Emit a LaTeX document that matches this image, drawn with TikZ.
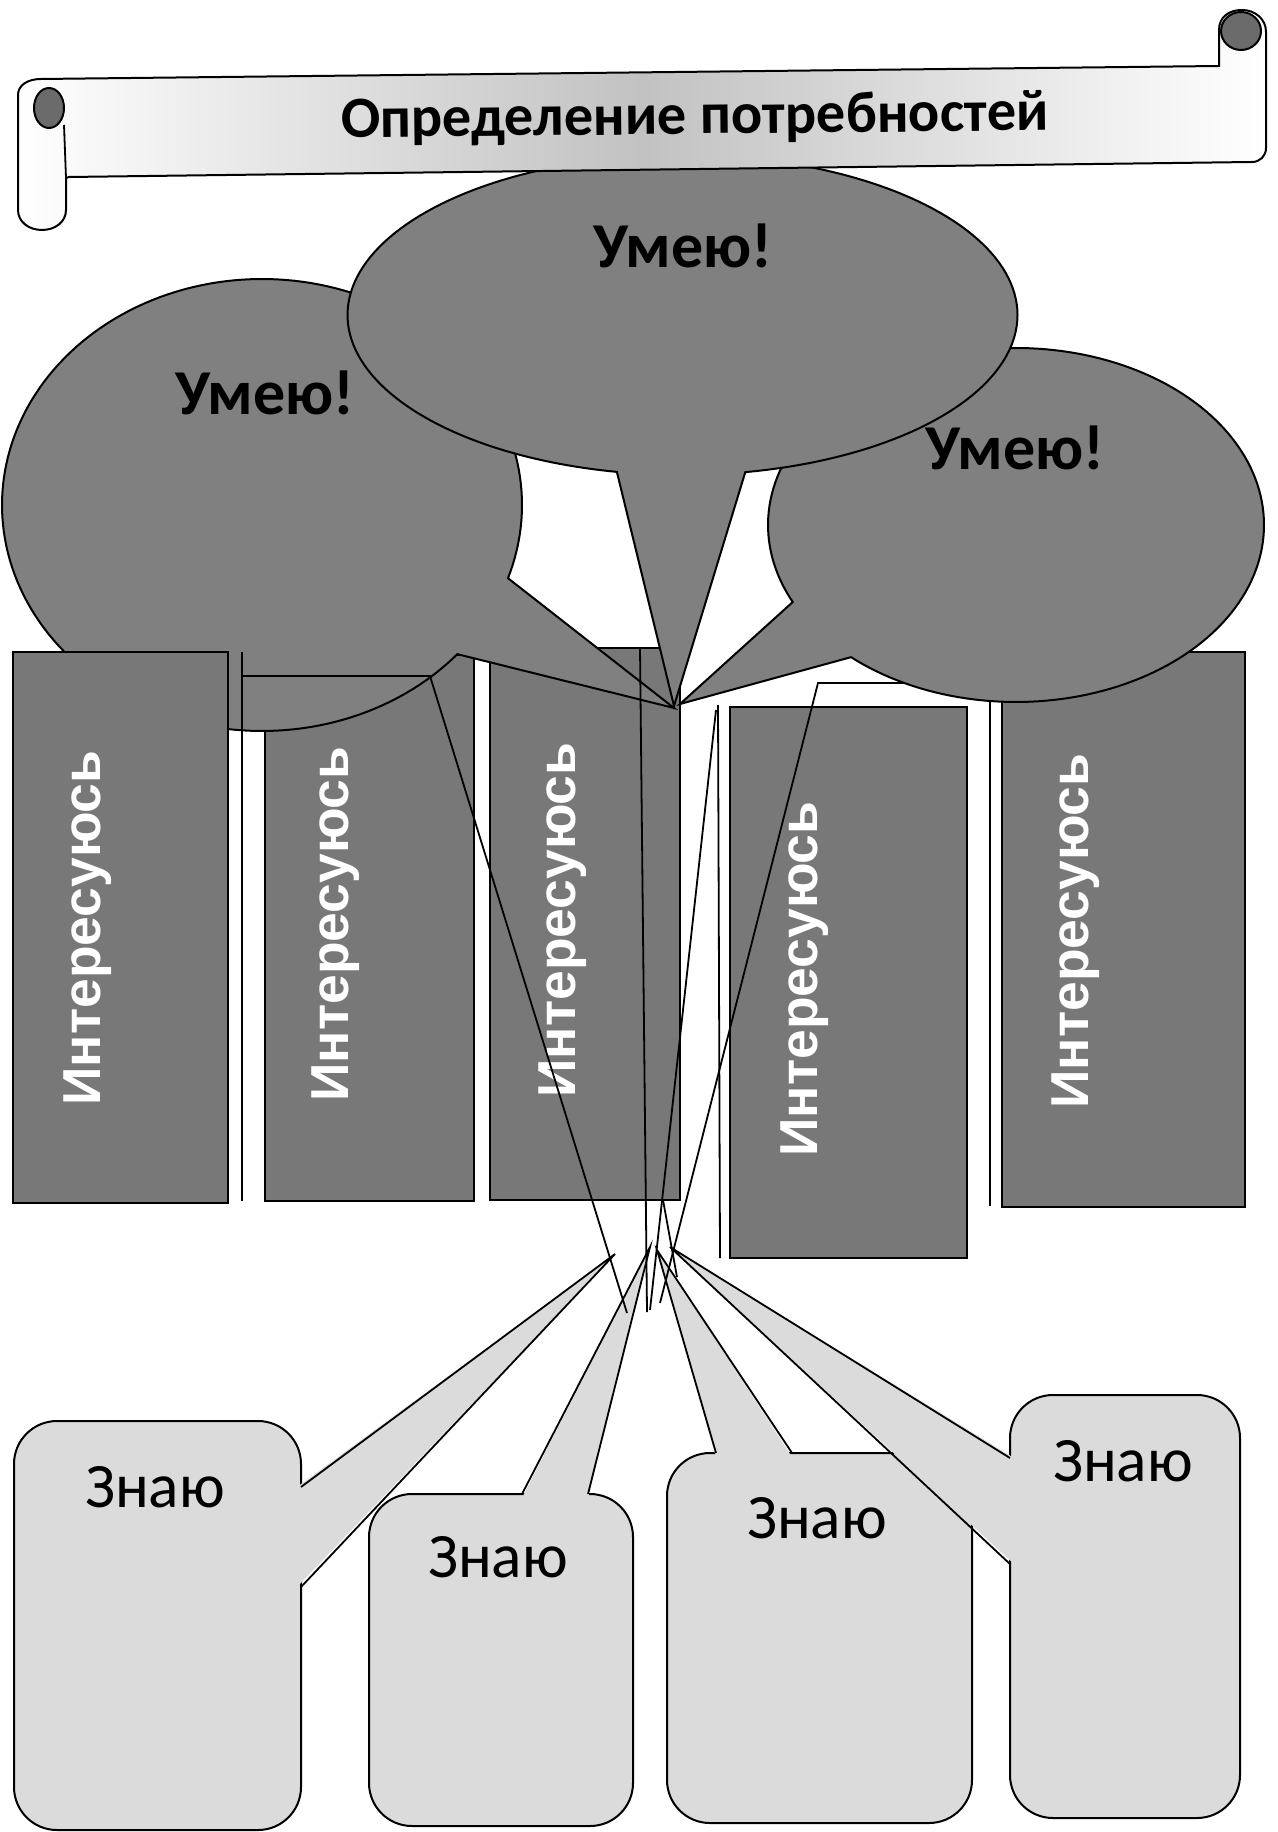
\documentclass[tikz,border=0pt]{standalone}
\usepackage{fontspec}
\setmainfont{Carlito}
\newfontfamily\interestfont{Liberation Sans}

\definecolor{bubblegray}{gray}{0.50}
\definecolor{boxgray}{gray}{0.47}
\definecolor{knowgray}{gray}{0.86}
\definecolor{scrollgray}{gray}{0.76}
\definecolor{curlgray}{gray}{0.42}

% ellipse with a pointer: cx, cy, rx, ry, start angle, end angle, tip x, tip y
\newcommand{\drawbubble}[8]{%
  \filldraw[bubble] plot[domain=#5:#6, samples=180] ({#1+#3*cos(\x)}, {#2+#4*sin(\x)}) -- (#7,#8) -- cycle;
}

\begin{document}
\begin{tikzpicture}[
      x=0.1mm, y=-0.1mm,
      bubble/.style ={fill=bubblegray, draw=black, line width=0.2mm},
      interestbox/.style ={fill=boxgray, draw=black, line width=0.2mm},
      knowbox/.style ={fill=knowgray, draw=black, line width=0.2mm, rounded corners=4.3mm},
      knowfill/.style ={fill=knowgray},
      scroll/.style ={draw=black, line width=0.2mm, left color=white, right color=white, middle color=scrollgray},
      curl/.style ={fill=curlgray, draw=black, line width=0.2mm},
      wire/.style ={draw=black, line width=0.18mm},
      titletext/.style ={font=\fontsize{16.6}{16.6}\selectfont\bfseries, anchor=base, inner sep=0pt},
      skilltext/.style ={font=\fontsize{18.2}{18.2}\selectfont\bfseries, anchor=base, inner sep=0pt},
      knowtext/.style ={font=\fontsize{18}{18}\selectfont, anchor=base, inner sep=0pt},
      interesttext/.style ={font=\interestfont\fontsize{15.2}{15.2}\selectfont\bfseries, text=white, rotate=90, anchor=base, inner sep=0pt}
    ]
    \useasboundingbox (0,0) rectangle (1277,1832);

    % columns under the bubbles
    \filldraw [interestbox] (265,655) rectangle (474,1201) ;
    \filldraw [interestbox] (490,648) rectangle (680,1200) ;
    \filldraw [interestbox] (730,707) rectangle (967,1258) ;
    \filldraw [interestbox] (1002,652) rectangle (1245,1207) ;
    \draw [wire] (990,690) -- (990,1206) ;

    % bubbles
    \drawbubble{262}{505}{260}{226}{41.3}{378.9}{674}{708}
    \drawbubble{1016}{525}{248}{177}{154.2}{491.7}{680}{704}
    \drawbubble{682.5}{315}{335}{160}{101.3}{439.2}{674}{706}

    \filldraw [interestbox] (13,652) rectangle (228,1203) ;

    % scroll
    \filldraw [scroll] (41,79) -- (1219,66) -- (1219,30)
      .. controls (1219,17) and (1229,10) .. (1242,10)
      .. controls (1255,10) and (1266,19) .. (1266,32)
      -- (1266,148) .. controls (1266,156) and (1260,162) .. (1252,162)
      -- (69,177) -- (66,178) -- (66,210)
      .. controls (66,222) and (55,230) .. (42,230)
      .. controls (29,230) and (18,222) .. (18,210)
      -- (18,95) .. controls (18,85) and (28,79) .. (41,79) -- cycle ;
    \filldraw [curl] (49,108) ellipse [x radius=15, y radius=20] ;
    \draw [wire] (64,125) -- (66,178) ;
    \filldraw [curl] (1241,31) ellipse [x radius=20, y radius=19] ;

    % callouts
    \filldraw [knowbox] (667,1453) rectangle (972,1823) ;
    \fill [knowfill] (716,1457) -- (657,1250) -- (792,1457) -- cycle ;
    \draw [wire] (716,1453) -- (657,1250) -- (792,1453) ;

    \filldraw [knowbox] (1010,1395) rectangle (1240,1818) ;
    \fill [knowfill] (1014,1458) -- (670,1247) -- (1014,1564) -- cycle ;
    \draw [wire] (1010,1458) -- (670,1247) -- (1010,1564) ;

    \filldraw [knowbox] (369,1494) rectangle (633,1826) ;
    \fill [knowfill] (522,1498) -- (650,1247) -- (588,1498) -- cycle ;
    \draw [wire] (522,1494) -- (650,1247) -- (588,1494) ;

    \filldraw [knowbox] (14,1421) rectangle (301,1830) ;
    \fill [knowfill] (297,1487) -- (615,1254) -- (297,1587) -- cycle ;
    \draw [wire] (301,1487) -- (615,1254) -- (301,1587) ;

    % texts
    \node [titletext, rotate=0.6] (title) at (695,134) {Определение потребностей} ;
    \node [skilltext] (skillLeft) at (265,415) {Умею!} ;
    \node [skilltext] (skillMid) at (683,268) {Умею!} ;
    \node [skilltext] (skillRight) at (1015,470) {Умею!} ;
    \node [interesttext] (interest1) at (100,928) {Интересуюсь} ;
    \node [interesttext] (interest2) at (348,924) {Интересуюсь} ;
    \node [interesttext] (interest3) at (575,920) {Интересуюсь} ;
    \node [interesttext] (interest4) at (817,979) {Интересуюсь} ;
    \node [interesttext] (interest5) at (1088,931) {Интересуюсь} ;
    \node [knowtext] (know1) at (155,1507) {Знаю} ;
    \node [knowtext] (know2) at (498,1577) {Знаю} ;
    \node [knowtext] (know3) at (817,1538) {Знаю} ;
    \node [knowtext] (know4) at (1123,1481) {Знаю} ;

    % stray lines
    \draw [wire] (242,652) -- (242,1201) ;
    \draw [wire] (242,676) -- (430,676) -- (627,1313) ;
    \draw [wire] (640,648) -- (647,1312) ;
    \draw [wire] (716,710) -- (650,1310) ;
    \draw [wire] (718,705) -- (720,1258) ;
    \draw [wire] (663,1200) -- (677,1277) ;
    \draw [wire] (904,683) -- (818,683) -- (660,1303) ;
  \end{tikzpicture}
\end{document}
